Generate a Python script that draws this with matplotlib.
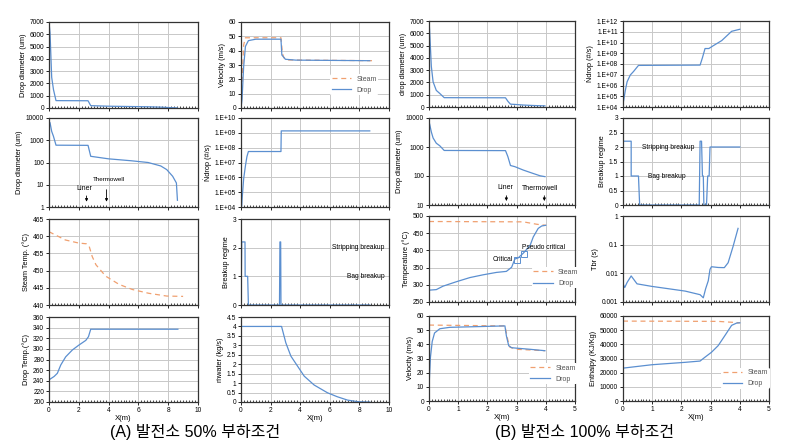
import numpy as np
import matplotlib
matplotlib.use("Agg")
import matplotlib.pyplot as plt
from matplotlib.ticker import MultipleLocator, FixedLocator, FuncFormatter, NullFormatter

plt.rcParams['font.family'] = ['Liberation Sans', 'Noto Sans CJK KR', 'DejaVu Sans']

# ---------------- (A) 50% load ----------------
a_dia_x = [0, 0.07, 0.18, 0.3, 0.47, 2.62, 2.8, 4.0, 5.5, 6.65, 7.5, 7.9, 8.3, 8.55, 8.62]
a_dia_y = [7000, 6100, 2500, 1500, 600, 590, 190, 146, 120, 100, 70, 48, 24, 12, 2]

a_vel_steam_x = [0, 0.07, 0.18, 0.3, 2.7, 2.8, 2.9, 3.2, 9.0]
a_vel_steam_y = [0, 17, 44, 49, 49, 38, 35, 33.5, 33]
a_vel_drop_x = [0, 0.07, 0.18, 0.3, 0.5, 1.0, 2.7, 2.76, 3.0, 3.7, 8.7]
a_vel_drop_y = [0, 6, 29, 43, 47, 48, 48, 37, 34, 33.4, 33]

a_nd_x = [0.05, 0.07, 0.18, 0.3, 0.4, 0.5, 2.7, 2.72, 8.7]
a_nd_y = [1.2e4, 3e4, 8e5, 6e6, 2.5e7, 5.5e7, 5.5e7, 1.35e9, 1.35e9]

a_tst_x = [0, 1.1, 2.0, 2.5, 2.7, 2.9, 3.15, 3.8, 4.7, 5.6, 6.7, 7.9, 9.0]
a_tst_y = [461.3, 458.9, 458, 457.8, 457, 454.1, 451.7, 448.4, 446, 444.5, 443.4, 442.6, 442.5]

a_brk_x = [0, 0.05, 0.27, 0.28, 0.45, 0.5, 2.6, 2.63, 2.68, 2.7, 8.7]
a_brk_y = [0, 2.2, 2.2, 1, 1, 0, 0, 2.2, 2.2, 0, 0]

a_tdr_x = [0, 0.34, 0.56, 0.79, 1.12, 1.57, 2.0, 2.47, 2.65, 2.8, 8.65]
a_tdr_y = [241.7, 248, 254, 269.7, 285, 298, 307, 316, 323, 337, 337]

a_mw_x = [0, 2.74, 3.03, 3.37, 3.82, 4.27, 4.94, 5.84, 6.5, 7.2, 7.87, 8.5, 8.7]
a_mw_y = [4.0, 4.0, 3.13, 2.43, 1.9, 1.37, 0.9, 0.49, 0.28, 0.1, 0.02, 0, 0]

# ---------------- (B) 100% load ----------------
b_dia_x = [0, 0.02, 0.08, 0.14, 0.25, 0.37, 0.52, 2.62, 2.7, 2.79, 2.94, 3.23, 3.57, 3.8, 3.97]
b_dia_y = [7000, 6300, 3300, 2050, 1350, 1100, 760, 750, 470, 230, 210, 160, 122, 102, 95]

b_nd_x = [0.02, 0.08, 0.14, 0.25, 0.36, 0.53, 2.64, 2.72, 2.81, 2.94, 3.09, 3.38, 3.72, 4.0]
b_nd_y = [3.8e4, 3.5e5, 2.2e6, 9.5e6, 2e7, 7.4e7, 7.9e7, 3.8e8, 2.75e9, 2.75e9, 5e9, 1.5e10, 1.1e11, 1.7e11]

b_brk_x = [0, 0.28, 0.28, 0.53, 0.57, 2.61, 2.64, 2.69, 2.72, 2.75, 2.77, 2.86, 2.9, 2.95, 2.98, 4.0]
b_brk_y = [2.2, 2.2, 1, 1, 0, 0, 2.2, 2.2, 1, 1, 0, 0, 1, 1, 2, 2]

b_tdr_x = [0, 0.25, 0.48, 0.94, 1.4, 1.85, 2.31, 2.65, 2.83, 2.94, 3.05, 3.23, 3.46, 3.57, 3.74, 3.86, 4.0]
b_tdr_y = [284.4, 286, 296, 309, 321, 329, 336, 339, 351, 375, 378, 392, 414, 439, 464, 471, 473]
b_tst_x = [0, 3.23, 3.69, 4.0]
b_tst_y = [484, 483, 476, 473]

b_vel_steam_x = [0, 2.6, 2.71, 2.77, 3.0, 3.97]
b_vel_steam_y = [53.6, 53, 42, 38, 36.5, 35.5]
b_vel_drop_x = [0, 0.05, 0.11, 0.19, 0.37, 0.71, 2.6, 2.65, 2.73, 2.83, 3.46, 3.97]
b_vel_drop_y = [10, 31, 42, 48, 51, 52, 53, 46, 39, 37.6, 36.5, 35.5]

b_tbr_x = [0, 0.06, 0.14, 0.28, 0.36, 0.48, 0.99, 1.56, 2.13, 2.64, 2.75, 2.83, 2.92, 2.98, 3.03, 3.26, 3.47, 3.6, 3.77, 3.94]
b_tbr_y = [0.0043, 0.0032, 0.0048, 0.0081, 0.0063, 0.0043, 0.0035, 0.0029, 0.0024, 0.0018, 0.0014,
           0.0029, 0.0055, 0.0138, 0.017, 0.016, 0.0158, 0.0234, 0.087, 0.37]

b_h_drop_x = [0, 0.99, 2.13, 2.64, 2.8, 3.03, 3.26, 3.49, 3.72, 3.89, 4.0]
b_h_drop_y = [23200, 25600, 27300, 28200, 30800, 34400, 39100, 46200, 53400, 55000, 55200]
b_h_steam_x = [0, 3.26, 4.0]
b_h_steam_y = [56400, 56200, 55200]

captions = ['(A) 발전소 50% 부하조건', '(B) 발전소 100% 부하조건']

DROP = '#5b8fd0'
STEAM = '#f0a070'
W, H = 785, 442

fig = plt.figure(figsize=(W / 100, H / 100), dpi=100)


def make_ax(x0, x1, y0, y1, xmax, xstep, bottom=False):
    ax = fig.add_axes([x0 / W, 1 - y1 / H, (x1 - x0) / W, (y1 - y0) / H])
    ax.set_xlim(0, xmax)
    ax.xaxis.set_major_locator(MultipleLocator(xstep))
    ax.xaxis.set_minor_locator(MultipleLocator(xstep / 10))
    ax.grid(True, which='major', color='#c8c8c8', lw=0.7)
    ax.set_axisbelow(True)
    for s in ax.spines.values():
        s.set_color('#333333')
        s.set_linewidth(0.9)
    ax.tick_params(axis='both', which='major', labelsize=4.8, length=2, width=0.6, pad=1.5)
    ax.tick_params(axis='x', which='minor', length=1.2, width=0.5, direction='in')
    if bottom:
        ax.set_xlabel('X(m)', fontsize=5.5, labelpad=0.5)
    else:
        ax.xaxis.set_major_formatter(NullFormatter())
    return ax


def ylab(ax, txt):
    ax.set_ylabel(txt, fontsize=5.3, labelpad=2)


def sci_fmt(v, p):
    return '1.E+%02d' % int(round(np.log10(v)))


def small_legend(ax, x, y):
    leg = ax.legend(loc='center left', bbox_to_anchor=(x, y), fontsize=5, handlelength=2.8,
                    frameon=True, edgecolor='none', facecolor='white', framealpha=1,
                    borderpad=0.2, labelspacing=0.6)
    for t in leg.get_texts():
        t.set_color('#555555')


rowsA = [(22, 108), (118, 207), (219, 305), (317, 402)]
rowsB = [(21, 107), (118, 205), (216, 302), (316, 401)]
colA = [(49, 198), (241, 389)]
colB = [(429, 575), (623, 769)]

# ---- A column 1 ----
ax = make_ax(*colA[0], *rowsA[0], 10, 2)
ax.plot(a_dia_x, a_dia_y, color=DROP, lw=0.9)
ax.set_ylim(0, 7000)
ax.yaxis.set_major_locator(MultipleLocator(1000))
ylab(ax, 'Drop diameter (um)')

ax = make_ax(*colA[0], *rowsA[1], 10, 2)
ax.plot(a_dia_x, a_dia_y, color=DROP, lw=0.9)
ax.set_yscale('log')
ax.set_ylim(1, 10000)
ax.yaxis.set_major_locator(FixedLocator([1, 10, 100, 1000, 10000]))
ax.yaxis.set_major_formatter(FuncFormatter(lambda v, p: '%d' % v))
ax.yaxis.set_minor_formatter(NullFormatter())
ax.tick_params(axis='y', which='minor', length=0)
ylab(ax, 'Drop diameter (um)')
ax.annotate('', xy=(2.52, 1.3), xytext=(2.52, 4.2),
            arrowprops=dict(arrowstyle='-|>', color='black', lw=0.6, mutation_scale=4))
ax.text(2.37, 7, 'Liner', fontsize=5, ha='center', va='center')
ax.annotate('', xy=(3.86, 1.3), xytext=(3.86, 8),
            arrowprops=dict(arrowstyle='-|>', color='black', lw=0.6, mutation_scale=4))
ax.text(4.0, 17, 'Thermowell', fontsize=4.5, ha='center', va='center')

ax = make_ax(*colA[0], *rowsA[2], 10, 2)
ax.plot(a_tst_x, a_tst_y, color=STEAM, lw=0.9, ls=(0, (4, 3)))
ax.set_ylim(440, 465)
ax.yaxis.set_major_locator(MultipleLocator(5))
ylab(ax, 'Steam Temp. (°C)')

ax = make_ax(*colA[0], *rowsA[3], 10, 2, bottom=True)
ax.plot(a_tdr_x, a_tdr_y, color=DROP, lw=0.9)
ax.set_ylim(200, 360)
ax.yaxis.set_major_locator(MultipleLocator(20))
ylab(ax, 'Drop Temp.(°C)')

# ---- A column 2 ----
ax = make_ax(*colA[1], *rowsA[0], 10, 2)
ax.plot(a_vel_steam_x, a_vel_steam_y, color=STEAM, lw=0.9, ls=(0, (4, 3)), label='Steam')
ax.plot(a_vel_drop_x, a_vel_drop_y, color=DROP, lw=0.9, label='Drop')
ax.set_ylim(0, 60)
ax.yaxis.set_major_locator(MultipleLocator(10))
ylab(ax, 'Velocity (m/s)')
small_legend(ax, 0.58, 0.27)

ax = make_ax(*colA[1], *rowsA[1], 10, 2)
ax.plot(a_nd_x, a_nd_y, color=DROP, lw=0.9)
ax.set_yscale('log')
ax.set_ylim(1e4, 1e10)
ax.yaxis.set_major_locator(FixedLocator([10.0 ** k for k in range(4, 11)]))
ax.yaxis.set_major_formatter(FuncFormatter(sci_fmt))
ax.yaxis.set_minor_formatter(NullFormatter())
ax.tick_params(axis='y', which='minor', length=0)
ylab(ax, 'Ṅdrop (#/s)')

ax = make_ax(*colA[1], *rowsA[2], 10, 2)
ax.plot(a_brk_x, a_brk_y, color=DROP, lw=0.9)
ax.set_ylim(0, 3)
ax.yaxis.set_major_locator(MultipleLocator(1))
ylab(ax, 'Breakup regime')
ax.text(9.7, 2, 'Stripping breakup', fontsize=4.8, ha='right', va='center')
ax.text(9.7, 1, 'Bag breakup', fontsize=4.8, ha='right', va='center')

ax = make_ax(*colA[1], *rowsA[3], 10, 2, bottom=True)
ax.plot(a_mw_x, a_mw_y, color=DROP, lw=0.9)
ax.set_ylim(0, 4.5)
ax.yaxis.set_major_locator(MultipleLocator(0.5))
ax.yaxis.set_major_formatter(FuncFormatter(lambda v, p: '%g' % v))
ylab(ax, 'ṁwater (kg/s)')

# ---- B column 1 ----
ax = make_ax(*colB[0], *rowsB[0], 5, 1)
ax.plot(b_dia_x, b_dia_y, color=DROP, lw=0.9)
ax.set_ylim(0, 7000)
ax.yaxis.set_major_locator(MultipleLocator(1000))
ylab(ax, 'drop diameter (um)')

ax = make_ax(*colB[0], *rowsB[1], 5, 1)
ax.plot(b_dia_x, b_dia_y, color=DROP, lw=0.9)
ax.set_yscale('log')
ax.set_ylim(10, 10000)
ax.yaxis.set_major_locator(FixedLocator([10, 100, 1000, 10000]))
ax.yaxis.set_major_formatter(FuncFormatter(lambda v, p: '%d' % v))
ax.yaxis.set_minor_formatter(NullFormatter())
ax.tick_params(axis='y', which='minor', length=0)
ylab(ax, 'Drop diameter (um)')
ax.annotate('', xy=(2.65, 11), xytext=(2.65, 26),
            arrowprops=dict(arrowstyle='-|>', color='black', lw=0.6, mutation_scale=4))
ax.text(2.62, 40, 'Liner', fontsize=5, ha='center', va='center')
ax.annotate('', xy=(3.95, 11), xytext=(3.95, 26),
            arrowprops=dict(arrowstyle='-|>', color='black', lw=0.6, mutation_scale=4))
ax.text(3.8, 38, 'Thermowell', fontsize=5, ha='center', va='center')

ax = make_ax(*colB[0], *rowsB[2], 5, 1)
ax.plot(b_tst_x, b_tst_y, color=STEAM, lw=0.9, ls=(0, (4, 3)), label='Steam')
ax.plot(b_tdr_x, b_tdr_y, color=DROP, lw=0.9, label='Drop')
ax.plot([3.03], [373], marker='s', ms=4, mfc='none', mec=DROP, mew=0.7)
ax.plot([3.26], [390], marker='s', ms=4, mfc='none', mec=DROP, mew=0.7)
ax.text(2.52, 373, 'Critical', fontsize=4.8, ha='center', va='center')
ax.text(3.92, 409, 'Pseudo critical', fontsize=4.8, ha='center', va='center')
ax.set_ylim(250, 500)
ax.yaxis.set_major_locator(MultipleLocator(50))
ylab(ax, 'Temperature (°C)')
small_legend(ax, 0.68, 0.28)

ax = make_ax(*colB[0], *rowsB[3], 5, 1, bottom=True)
ax.plot(b_vel_steam_x, b_vel_steam_y, color=STEAM, lw=0.9, ls=(0, (4, 3)), label='Steam')
ax.plot(b_vel_drop_x, b_vel_drop_y, color=DROP, lw=0.9, label='Drop')
ax.set_ylim(0, 60)
ax.yaxis.set_major_locator(MultipleLocator(10))
ylab(ax, 'Velocity (m/s)')
small_legend(ax, 0.66, 0.32)

# ---- B column 2 ----
ax = make_ax(*colB[1], *rowsB[0], 5, 1)
ax.plot(b_nd_x, b_nd_y, color=DROP, lw=0.9)
ax.set_yscale('log')
ax.set_ylim(1e4, 1e12)
ax.yaxis.set_major_locator(FixedLocator([10.0 ** k for k in range(4, 13)]))
ax.yaxis.set_major_formatter(FuncFormatter(sci_fmt))
ax.yaxis.set_minor_formatter(NullFormatter())
ax.tick_params(axis='y', which='minor', length=0)
ylab(ax, 'Ṅdrop (#/s)')

ax = make_ax(*colB[1], *rowsB[1], 5, 1)
ax.plot(b_brk_x, b_brk_y, color=DROP, lw=0.9)
ax.set_ylim(0, 3)
ax.yaxis.set_major_locator(MultipleLocator(0.5))
ax.yaxis.set_major_formatter(FuncFormatter(lambda v, p: '%g' % v))
ylab(ax, 'Breakup regime')
ax.text(1.56, 1.97, 'Stripping breakup', fontsize=4.8, ha='center', va='center')
ax.text(1.5, 1.0, 'Bag breakup', fontsize=4.8, ha='center', va='center')

ax = make_ax(*colB[1], *rowsB[2], 5, 1)
ax.plot(b_tbr_x, b_tbr_y, color=DROP, lw=0.9)
ax.set_yscale('log')
ax.set_ylim(0.001, 1)
ax.yaxis.set_major_locator(FixedLocator([0.001, 0.01, 0.1, 1]))
ax.yaxis.set_major_formatter(FuncFormatter(lambda v, p: '%g' % v))
ax.yaxis.set_minor_formatter(NullFormatter())
ax.tick_params(axis='y', which='minor', length=0)
ylab(ax, 'Tbr (s)')

ax = make_ax(*colB[1], *rowsB[3], 5, 1, bottom=True)
ax.plot(b_h_steam_x, b_h_steam_y, color=STEAM, lw=0.9, ls=(0, (4, 3)), label='Steam')
ax.plot(b_h_drop_x, b_h_drop_y, color=DROP, lw=0.9, label='Drop')
ax.set_ylim(0, 60000)
ax.yaxis.set_major_locator(MultipleLocator(10000))
ylab(ax, 'Enthalpy (KJ/Kg)')
small_legend(ax, 0.65, 0.27)

fig.text(0.248, 0.022, captions[0], fontsize=11.5, ha='center', va='center')
fig.text(0.745, 0.022, captions[1], fontsize=11.5, ha='center', va='center')

fig.savefig('out.png', dpi=100)
